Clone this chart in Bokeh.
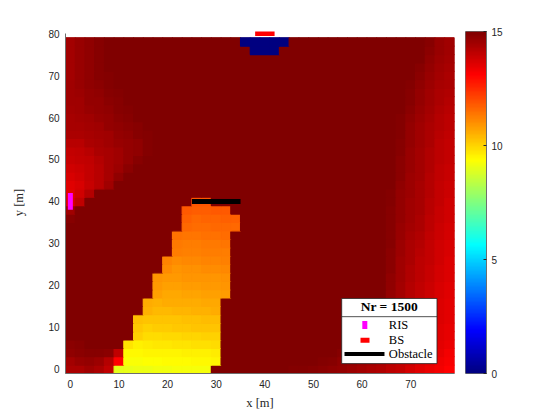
import numpy as np
from bokeh.plotting import figure
from bokeh.models import ColumnDataSource, LinearColorMapper, Label, FixedTicker
from bokeh.layouts import row
from bokeh.embed import file_html
from bokeh.resources import INLINE

# ---------------- data ----------------
x_centers = list(range(0, 80, 2))      # 40 grid columns [m]
y_centers = list(range(0, 80, 2))      # 40 grid rows [m]
saturated_value = 15.0                 # dark-red background level

# values of the red glow along the left edge, per row, starting at column 0
left_glow = [
    [14.3, 14.3, 14.5, 14.3, 14.05],
    [14.45, 14.6, 14.65, 14.55, 14.2, 13.1],
    [14.75, 14.8, 14.85, 14.85, 14.8, 14.05],
    [14.8, 14.85],
    [], [], [], [], [], [], [], [], [], [], [], [], [], [],
    [14.85],
    [14.5],
    [13.6, 14.05],
    [13.5, 13.8, 14.2],
    [13.55, 13.7, 13.9, 14.15, 14.5],
    [13.7, 13.8, 13.95, 14.15, 14.4, 14.75],
    [13.8, 13.85, 14.0, 14.15, 14.4, 14.55, 14.8],
    [13.9, 13.95, 14.05, 14.2, 14.4, 14.5, 14.65, 14.85],
    [14.0, 14.05, 14.15, 14.3, 14.4, 14.5, 14.65, 14.75, 14.9],
    [14.15, 14.15, 14.3, 14.4, 14.5, 14.6, 14.65, 14.75, 14.9],
    [14.3, 14.3, 14.4, 14.45, 14.5, 14.65, 14.75, 14.85, 14.92],
    [14.4, 14.4, 14.45, 14.5, 14.65, 14.75, 14.8, 14.88, 14.95],
    [14.4, 14.45, 14.5, 14.6, 14.7, 14.8, 14.88, 14.95, 14.97],
    [14.45, 14.5, 14.6, 14.65, 14.75, 14.85, 14.9, 14.96],
    [14.5, 14.5, 14.65, 14.7, 14.8, 14.88, 14.95],
    [14.5, 14.58, 14.7, 14.75, 14.85, 14.92],
    [14.5, 14.62, 14.75, 14.82, 14.9],
    [14.45, 14.62, 14.75, 14.85, 14.93],
    [14.45, 14.62, 14.75, 14.85],
    [14.45, 14.62, 14.75, 14.85],
    [14.45, 14.62, 14.75, 14.85],
    [14.45, 14.62, 14.75, 14.85],
]

# values of the red glow along the right edge, per row, starting at the last column
right_glow = [
    [13.1, 13.25, 13.4, 13.55, 13.75, 13.95, 14.1, 14.25, 14.35, 14.45, 14.55, 14.65, 14.72, 14.78, 14.84, 14.9, 14.92],
    [13.2, 13.35, 13.5, 13.65, 13.85, 14.0, 14.15, 14.3, 14.45, 14.55, 14.65, 14.75, 14.85, 14.9, 14.95],
    [13.3, 13.42, 13.58, 13.75, 13.92, 14.08, 14.25, 14.4, 14.52, 14.65, 14.78, 14.88, 14.95],
    [13.38, 13.5, 13.65, 13.82, 14.0, 14.15, 14.32, 14.48, 14.65, 14.8],
    [13.42, 13.55, 13.7, 13.88, 14.05, 14.22, 14.4, 14.58, 14.78],
    [13.45, 13.58, 13.75, 13.92, 14.1, 14.28, 14.48, 14.7],
    [13.48, 13.6, 13.78, 13.95, 14.12, 14.3, 14.5, 14.75],
    [13.5, 13.62, 13.8, 13.98, 14.15, 14.35, 14.55, 14.8],
    [13.52, 13.65, 13.82, 14.0, 14.18, 14.38, 14.6, 14.85],
    [13.55, 13.68, 13.85, 14.02, 14.2, 14.42, 14.7],
    [13.58, 13.7, 13.88, 14.05, 14.22, 14.45, 14.72],
    [13.6, 13.72, 13.9, 14.08, 14.25, 14.48, 14.75],
    [13.62, 13.75, 13.92, 14.1, 14.28, 14.5, 14.78],
    [13.65, 13.78, 13.95, 14.12, 14.3, 14.52, 14.8],
    [13.68, 13.8, 13.98, 14.15, 14.32, 14.55, 14.82],
    [13.7, 13.82, 14.0, 14.18, 14.35, 14.58, 14.84],
    [13.72, 13.85, 14.05, 14.25, 14.4, 14.6, 14.86],
    [13.75, 13.88, 14.08, 14.3, 14.45, 14.62, 14.88],
    [13.78, 13.9, 14.12, 14.35, 14.5, 14.65, 14.88],
    [13.8, 13.92, 14.15, 14.38, 14.52, 14.65, 14.88],
    [13.82, 13.95, 14.15, 14.38, 14.52, 14.66, 14.9],
    [13.85, 13.98, 14.18, 14.38, 14.54, 14.7, 14.94],
    [13.88, 14.0, 14.2, 14.4, 14.55, 14.75],
    [13.9, 14.02, 14.22, 14.42, 14.58, 14.78],
    [13.92, 14.05, 14.24, 14.44, 14.6, 14.8],
    [13.95, 14.08, 14.26, 14.45, 14.62, 14.82],
    [13.98, 14.1, 14.28, 14.46, 14.64, 14.85],
    [14.0, 14.12, 14.3, 14.48, 14.66, 14.88],
    [14.05, 14.15, 14.32, 14.5, 14.68, 14.9],
    [14.08, 14.18, 14.35, 14.52, 14.7, 14.92],
    [14.12, 14.22, 14.4, 14.58, 14.75, 14.94],
    [14.15, 14.25, 14.42, 14.6, 14.8, 14.96],
    [14.2, 14.3, 14.48, 14.65, 14.85],
    [14.25, 14.35, 14.52, 14.7, 14.88],
    [14.3, 14.4, 14.56, 14.75, 14.9],
    [14.35, 14.45, 14.62, 14.82],
    [14.4, 14.5, 14.68, 14.88],
    [14.45, 14.55, 14.75],
    [14.48, 14.6, 14.8],
    [14.5, 14.62, 14.85],
]

# yellow/orange zone behind the obstacle: first column per row and values
shadow_start_col = [5, 6, 6, 6, 7, 7, 7, 8, 8, 9, 9, 9, 10, 10, 11, 11, 11, 12, 12, 12, 13]
shadow_values = [
    [9.0, 9.05, 9.1, 9.1, 9.15, 9.15, 9.2, 9.2, 9.2, 9.25],
    [9.3, 9.3, 9.35, 9.35, 9.4, 9.4, 9.4, 9.45, 9.45, 9.5],
    [9.45, 9.45, 9.5, 9.5, 9.55, 9.55, 9.6, 9.6, 9.6, 9.65],
    [9.75, 9.6, 9.65, 9.7, 9.7, 9.75, 9.75, 9.8, 9.8, 9.85],
    [10.05, 9.9, 9.9, 9.95, 9.95, 10.0, 10.0, 10.05, 10.05],
    [10.15, 10.05, 10.1, 10.1, 10.15, 10.15, 10.2, 10.2, 10.25],
    [10.3, 10.2, 10.2, 10.25, 10.25, 10.3, 10.3, 10.35, 10.35],
    [10.5, 10.4, 10.4, 10.45, 10.45, 10.5, 10.5, 10.55],
    [10.6, 10.5, 10.55, 10.55, 10.6, 10.6, 10.65, 10.65],
    [10.75, 10.65, 10.65, 10.7, 10.7, 10.75, 10.75, 10.8],
    [10.85, 10.75, 10.75, 10.8, 10.8, 10.85, 10.85, 10.9],
    [10.95, 10.85, 10.85, 10.9, 10.9, 10.95, 10.95, 11.0],
    [11.05, 10.95, 11.0, 11.0, 11.05, 11.05, 11.1],
    [11.15, 11.05, 11.1, 11.1, 11.15, 11.15, 11.2],
    [11.25, 11.2, 11.2, 11.25, 11.25, 11.3],
    [11.35, 11.3, 11.3, 11.35, 11.35, 11.4],
    [11.45, 11.4, 11.4, 11.45, 11.45, 11.5],
    [11.55, 11.5, 11.5, 11.55, 11.55, 11.6],
    [11.7, 11.6, 11.65, 11.65, 11.7, 11.7],
    [11.8, 11.75, 11.75, 11.8, 11.8],
    [11.85, 11.85],
]

# dark-blue cells under the base station (row index, column indices)
blue_rows = [39, 38]
blue_cols = [[18, 19, 20, 21, 22], [19, 20, 21]]
blue_value = 0.0

# scene objects (segments, in metres)
ris_x, ris_y = [0, 0], [38, 42]
bs_x, bs_y = [38, 42], [80, 80]
obstacle_x, obstacle_y = [25, 35], [40, 40]

legend_title = "Nr = 1500"
legend_labels = ["RIS", "BS", "Obstacle"]
x_ticks = [0, 10, 20, 30, 40, 50, 60, 70]
y_ticks = [0, 10, 20, 30, 40, 50, 60, 70, 80]
cbar_ticks = [0, 5, 10, 15]
c_low, c_high = 0, 15

# ---------------- build grid ----------------
n = len(x_centers)
grid = np.full((len(y_centers), n), saturated_value)
for i, vals in enumerate(left_glow):
    for j, v in enumerate(vals):
        grid[i, j] = v
for i, vals in enumerate(right_glow):
    for k, v in enumerate(vals):
        grid[i, n - 1 - k] = v
for i, (s, vals) in enumerate(zip(shadow_start_col, shadow_values)):
    for k, v in enumerate(vals):
        grid[i, s + k] = v
for r, cols in zip(blue_rows, blue_cols):
    for c in cols:
        grid[r, c] = blue_value

xs, ys, vs = [], [], []
for i, yc in enumerate(y_centers):
    for j, xc in enumerate(x_centers):
        xs.append(xc); ys.append(yc); vs.append(grid[i, j])


def jet(N):
    out = []
    for i in range(N):
        t = i / (N - 1)
        r = min(max(1.5 - abs(4 * t - 3), 0), 1)
        g = min(max(1.5 - abs(4 * t - 2), 0), 1)
        b = min(max(1.5 - abs(4 * t - 1), 0), 1)
        out.append("#%02x%02x%02x" % (round(r * 255), round(g * 255), round(b * 255)))
    return out


palette = jet(256)
mapper = LinearColorMapper(palette=palette, low=c_low, high=c_high)

TICK_FONT = "Liberation Sans"
SERIF = "Liberation Serif"
TXT = "#262626"
AX = "#6e6e6e"

p = figure(width=456, height=412, x_range=(-1, 79), y_range=(-1, 80.5),
           output_backend="svg", toolbar_location=None, title=None,
           min_border_left=65, min_border_right=2, min_border_top=29, min_border_bottom=38)
p.outline_line_color = None
p.grid.visible = False
p.background_fill_color = "white"

# opaque underlay in the saturated colour so that cell seams do not show
half = (x_centers[1] - x_centers[0]) / 2
p.quad(left=[min(x_centers) - half], right=[max(x_centers) + half],
       bottom=[min(y_centers) - half], top=[max(y_centers) + half],
       fill_color=palette[-1], line_color=None)

src = ColumnDataSource(dict(x=xs, y=ys, v=vs))
p.rect(x="x", y="y", width=2, height=2, source=src,
       fill_color={"field": "v", "transform": mapper},
       line_color={"field": "v", "transform": mapper}, line_width=1.2)

p.line(ris_x, ris_y, line_color="#ff00ff", line_width=5, line_cap="butt")
p.line(obstacle_x, obstacle_y, line_color="black", line_width=5, line_cap="butt")
p.line(bs_x, bs_y, line_color="#ff0000", line_width=5, line_cap="butt")

# axes
for ax in (p.xaxis[0], p.yaxis[0]):
    ax.major_tick_in = 0
    ax.major_tick_out = 0
    ax.minor_tick_in = 0
    ax.minor_tick_out = 0
    ax.axis_line_color = AX
    ax.axis_line_width = 1
    ax.major_label_text_font = TICK_FONT
    ax.major_label_text_font_size = "10px"
    ax.major_label_text_color = TXT
    ax.axis_label_text_font = SERIF
    ax.axis_label_text_font_size = "12.5px"
    ax.axis_label_text_font_style = "normal"
    ax.axis_label_text_color = TXT
p.xaxis.ticker = FixedTicker(ticks=x_ticks)
p.yaxis.ticker = FixedTicker(ticks=y_ticks)
p.yaxis.bounds = (-1, 80)
p.xaxis.axis_label = "x [m]"
p.yaxis.axis_label = "y [m]"
p.xaxis.major_label_standoff = 6
p.yaxis.major_label_standoff = 6
p.xaxis.axis_label_standoff = 5
p.yaxis.axis_label_standoff = 19

# legend box (layout in data units of the axes)
p.quad(left=[55.8], right=[75.4], bottom=[1.36], top=[16.88],
       fill_color="white", line_color="#262626", line_width=0.8)
p.line([55.8, 75.4], [12.54, 12.54], line_color="#262626", line_width=0.8)
p.quad(left=[60.04], right=[61.07], bottom=[9.63], top=[11.52],
       fill_color="#ff00ff", line_color=None)
p.quad(left=[59.67], right=[61.52], bottom=[6.32], top=[7.5],
       fill_color="#ff0000", line_color=None)
p.line([56.38, 64.6], [3.62, 3.62], line_color="black", line_width=4, line_cap="butt")
p.add_layout(Label(x=65.6, y=15.06, text=legend_title, text_font=SERIF,
                   text_font_size="13.5px", text_font_style="bold", text_color="black",
                   text_align="center", text_baseline="middle"))
for lab, yy in zip(legend_labels, [10.58, 6.91, 3.65]):
    p.add_layout(Label(x=65.5, y=yy, text=lab, text_font=SERIF,
                       text_font_size="12.5px", text_color="black",
                       text_align="left", text_baseline="middle"))

# colour bar as its own small figure (a smooth gradient image)
gradient = np.linspace(c_low, c_high, 512).reshape(512, 1)
cb = figure(width=60, height=412, x_range=(0, 1), y_range=(c_low, c_high),
            output_backend="svg", toolbar_location=None, title=None,
            y_axis_location="right",
            min_border_left=9, min_border_right=30, min_border_top=31, min_border_bottom=38)
cb.image(image=[gradient], x=0, y=c_low, dw=1, dh=c_high - c_low, color_mapper=mapper)
cb.grid.visible = False
cb.xaxis.visible = False
cb.outline_line_color = AX
cb.outline_line_width = 1
ya = cb.yaxis[0]
ya.ticker = FixedTicker(ticks=cbar_ticks)
ya.major_tick_in = 3
ya.major_tick_out = 0
ya.minor_tick_in = 0
ya.minor_tick_out = 0
ya.major_tick_line_color = TXT
ya.axis_line_color = AX
ya.major_label_text_font = TICK_FONT
ya.major_label_text_font_size = "10px"
ya.major_label_text_color = TXT
ya.major_label_standoff = 5

layout = row(p, cb)
open("out.html", "w").write(file_html(layout, INLINE))
